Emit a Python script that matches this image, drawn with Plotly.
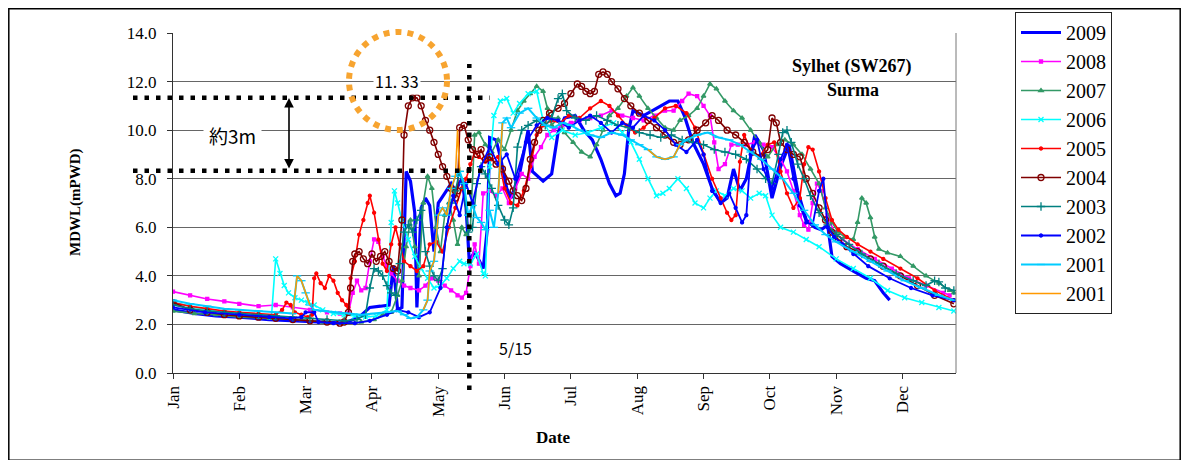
import plotly.graph_objects as go

# ---------------- data (day of year, MDWL m PWD) ----------------
month_labels = ["Jan", "Feb", "Mar", "Apr", "May", "Jun", "Jul", "Aug", "Sep", "Oct", "Nov", "Dec"]
month_tick_days = [0, 31, 62, 93, 124, 155, 186, 217, 248, 279, 310, 341]
y_tick_values = [0, 2, 4, 6, 8, 10, 12, 14]

s2009 = [(0,2.6),(10,2.45),(20,2.35),(31,2.3),(45,2.2),(60,2.15),(70,2.1),(80,2.05),(87,2.3),(92,2.7),(97,2.75),
         (101,2.8),(103,4.4),(105,2.6),(107,2.7),(109,8.3),(111,7.9),(113,6.6),(114,2.7),(116,6.8),(118,7.2),(120,6.9),
         (122,5.0),(124,7.0),(127,7.4),(130,7.8),(132,7.5),(135,8.0),(137,6.8),(138.5,4.6),(141,5.0),(145,4.3),(147,6.0),
         (148,9.7),(151,9.6),(153,8.9),(156,7.6),(158,7.2),(162,8.2),(166,10.0),(168,8.3),(173,7.9),(177,8.2),(180,9.9),
         (183,10.5),(188,10.6),(192,10.0),(196,9.6),(200,8.8),(204,7.8),(207,7.3),(209,7.4),(211,8.2),(213,10.0),(215,10.8),
         (220,10.6),(226,10.9),(232,11.2),(236,11.2),(239,10.6),(243,9.5),(248,8.6),(252,7.6),(256,7.0),(259,7.2),(262,8.4),
         (265,7.5),(268,8.0),(272,9.8),(276,9.2),(280,7.2),(284,8.5),(288,9.4),(292,7.5),(296,6.3),(300,6.0),(303,5.9),
         (306,6.1),(308,4.8),(312,4.5),(318,4.2),(324,3.9),(328,3.8),(332,3.3),(335,3.0)]

s2008 = [(0,3.35),(8,3.2),(16,3.05),(24,2.95),(31,2.85),(40,2.75),(48,2.8),(56,2.7),(64,2.6),(72,2.5),(78,2.45),(82,2.45),
         (84,3.3),(86,3.8),(88,3.4),(90,3.5),(92,4.6),(94,5.5),(96,5.4),(98,4.8),(100,4.4),(102,4.1),(105,3.8),(108,3.6),
         (111,3.5),(115,3.4),(118,3.6),(121,3.9),(124,3.8),(127,3.6),(130,3.4),(133,3.2),(135,3.1),(137,3.3),(139,4.4),
         (141,5.3),(143,4.5),(145,7.4),(148,7.5),(151,7.3),(154,7.6),(157,7.0),(160,7.6),(163,8.2),(166,8.0),(169,8.9),
         (172,9.3),(175,9.8),(178,10.0),(182,10.2),(186,10.3),(190,10.4),(195,10.5),(200,10.6),(205,10.8),(210,10.6),
         (215,10.5),(220,10.4),(225,10.6),(230,10.8),(234,10.8),(238,11.2),(241,11.5),(245,11.4),(248,11.0),(251,10.6),
         (253,9.5),(255,8.4),(258,8.6),(261,9.4),(264,9.4),(268,9.4),(272,9.5),(276,9.4),(280,9.3),(284,8.8),(287,8.3),
         (290,7.5),(293,6.5),(295,6.1),(297,5.9),(299,7.0),(301,7.8),(303,7.5),(306,6.5),(309,5.8),(313,5.5),(320,5.1),
         (328,4.7),(336,4.3),(344,3.9),(352,3.6),(360,3.3),(363,3.2)]

s2007 = [(0,2.55),(10,2.45),(20,2.4),(31,2.3),(45,2.25),(60,2.2),(70,2.1),(80,2.05),(88,2.1),(94,2.2),(98,2.4),(102,2.5),
         (105,3.2),(107,3.8),(109,5.2),(111,6.3),(113,5.2),(115,4.0),(117,7.0),(119,8.1),(121,7.6),(123,6.0),(125,5.0),
         (127,6.5),(129,7.0),(131,6.3),(133,5.3),(135,6.0),(137,5.7),(139,6.0),(141,9.8),(143,9.9),(146,9.4),(149,9.1),
         (152,9.6),(155,9.2),(158,10.0),(161,10.8),(164,11.2),(167,11.5),(170,11.8),(173,11.6),(175,10.9),(177,10.2),
         (180,10.5),(183,9.9),(187,9.5),(191,9.1),(195,8.9),(198,9.4),(201,10.0),(204,10.6),(208,10.9),(212,11.4),
         (215,11.75),(218,11.4),(222,10.9),(226,10.5),(230,10.1),(234,10.0),(237,10.4),(241,10.6),(245,10.9),(248,11.4),
         (251,11.9),(254,11.7),(258,11.2),(262,10.8),(266,10.5),(270,10.0),(274,9.5),(278,8.9),(282,9.4),(286,9.6),
         (290,9.4),(294,9.0),(298,8.4),(302,7.8),(305,6.8),(308,6.2),(311,5.8),(314,5.6),(318,5.5),(320,6.2),(322,7.2),
         (324,7.0),(326,6.4),(328,5.6),(330,5.1),(334,4.95),(340,4.8),(346,4.4),(352,4.0),(358,3.7),(363,3.4),(365,3.3)]

s2006 = [(0,2.9),(8,2.75),(16,2.6),(24,2.5),(31,2.4),(40,2.35),(46,2.3),(48,4.7),(50,4.1),(52,3.6),(54,3.3),(57,3.1),
         (60,3.0),(63,2.9),(66,2.8),(70,2.6),(75,2.45),(80,2.4),(85,2.35),(90,2.3),(95,2.35),(100,2.6),(102,6.2),
         (103.5,7.5),(105,7.0),(107,6.3),(110,5.5),(113,4.8),(116,4.3),(119,3.9),(122,3.5),(125,3.6),(128,3.9),(131,4.3),
         (134,4.6),(136,4.5),(139,4.5),(142,4.9),(145,4.1),(146,4.0),(148,8.5),(150,10.6),(153,11.2),(156,11.3),(159,10.7),
         (162,11.1),(166,11.5),(170,11.6),(173,10.4),(177,9.7),(182,10.0),(188,9.8),(194,9.9),(200,10.1),(206,10.3),
         (210,9.9),(214,9.5),(218,8.8),(222,8.0),(226,7.3),(229,7.4),(232,7.6),(236,8.0),(240,7.6),(244,7.0),(248,6.8),
         (251,7.2),(254,7.5),(258,7.3),(262,7.6),(266,7.5),(270,7.2),(274,7.4),(277,7.3),(280,6.5),(284,6.0),(290,5.8),
         (296,5.5),(302,5.2),(310,4.7),(318,4.3),(326,3.9),(334,3.4),(342,3.1),(350,2.9),(358,2.7),(365,2.55)]

s2005 = [(0,2.9),(8,2.75),(16,2.65),(24,2.55),(31,2.5),(40,2.45),(48,2.4),(51,2.6),(53,2.9),(55,2.8),(57,2.5),(60,2.4),
         (63,2.3),(65,2.4),(66,3.9),(67,4.1),(69,3.7),(71,3.5),(73,4.0),(75,3.8),(77,3.3),(79,3.0),(81,2.8),(82,2.7),
         (83,3.9),(85,4.6),(87,5.7),(89,6.3),(91,7.0),(92,7.3),(94,6.6),(96,5.5),(98,4.5),(100,4.2),(102,5.3),(104,6.0),
         (106,5.3),(108,4.6),(111,4.4),(114,4.2),(117,4.4),(120,5.3),(123,5.4),(126,5.0),(129,6.0),(132,6.8),(135,7.6),
         (137,8.0),(139,8.6),(141,9.1),(143,8.9),(146,8.7),(149,8.8),(152,8.9),(155,7.6),(158,7.0),(161,6.9),(164,7.5),
         (167,8.5),(170,9.8),(173,10.2),(177,10.4),(181,10.3),(185,10.6),(190,10.5),(195,10.9),(200,11.2),(204,11.0),
         (208,10.6),(212,10.2),(216,9.9),(220,10.1),(225,10.5),(230,10.9),(235,11.0),(240,10.7),(244,10.1),(248,9.0),
         (252,8.0),(256,7.2),(259,6.6),(261,6.3),(263,6.5),(265,8.7),(267,9.8),(270,9.2),(274,8.9),(278,9.4),(281,9.5),
         (284,8.3),(287,7.4),(290,6.8),(293,7.2),(295,8.6),(297,9.3),(299,9.2),(302,8.3),(305,7.2),(308,6.3),(311,5.9),
         (315,5.6),(320,5.3),(326,5.0),(332,4.7),(340,4.3),(348,3.9),(356,3.4),(365,3.0)]

s2004 = [(0,2.9),(8,2.6),(16,2.5),(24,2.4),(31,2.35),(40,2.3),(48,2.25),(56,2.2),(64,2.15),(72,2.1),(78,2.05),(80,2.1),
         (82,2.5),(83,3.5),(84,4.6),(85,4.9),(87,5.0),(89,4.7),(91,4.5),(93,4.9),(95,4.6),(97,4.8),(99,5.0),(101,4.6),
         (103,4.3),(105,4.2),(107,6.3),(108,9.8),(110,11.0),(112,11.33),(114,11.33),(116,11.0),(118,10.4),(120,10.0),
         (122,9.5),(124,9.0),(126,8.5),(128,8.1),(130,7.6),(132,7.2),(133,7.5),(134,10.1),(136,10.2),(138,9.6),(140,9.2),
         (142,9.0),(144,9.2),(146,8.8),(148,8.9),(151,8.6),(154,8.4),(157,7.9),(159,7.5),(161,7.3),(163,7.1),(165,7.6),
         (167,8.8),(169,9.5),(171,10.0),(173,10.4),(176,10.7),(180,10.9),(183,11.1),(186,11.5),(189,11.9),(191,11.8),
         (193,11.6),(195,11.5),(197,11.6),(199,12.3),(201,12.4),(203,12.3),(205,12.0),(208,11.7),(211,11.3),(214,11.0),
         (218,10.7),(222,10.4),(226,10.1),(230,9.8),(234,9.5),(237,9.4),(241,9.6),(245,10.0),(249,10.3),(252,10.6),
         (255,10.4),(259,10.0),(263,9.8),(267,9.5),(271,9.1),(275,8.9),(278,9.2),(280,10.5),(282,10.3),(284,9.5),
         (287,9.2),(290,9.0),(293,8.9),(296,8.0),(299,7.4),(302,6.8),(305,6.3),(308,5.8),(311,5.5),(315,5.2),(320,5.0),
         (326,4.7),(332,4.4),(340,4.0),(348,3.6),(356,3.2),(365,2.85)]

s2003 = [(0,2.8),(8,2.65),(16,2.55),(24,2.5),(31,2.45),(40,2.4),(48,2.35),(56,2.3),(64,2.25),(72,2.2),(80,2.15),(86,2.2),
         (90,2.4),(92,3.5),(94,4.3),(96,4.2),(98,4.0),(100,3.6),(102,3.3),(104,3.2),(106,4.5),(108,5.8),(110,6.1),
         (112,5.8),(114,6.3),(116,6.7),(118,5.0),(120,4.4),(122,4.0),(124,3.8),(126,4.3),(128,6.0),(130,7.0),(132,7.5),
         (134,8.3),(136,7.6),(138,5.8),(140,6.0),(142,7.8),(144,8.5),(146,8.2),(149,7.6),(152,6.9),(155,6.3),(157,6.1),
         (159,6.8),(161,9.3),(163,10.0),(166,10.2),(170,10.4),(174,10.2),(177,10.5),(180,11.3),(182,11.5),(184,10.8),
         (188,10.5),(193,10.4),(198,10.6),(203,10.4),(208,10.2),(213,10.1),(218,9.9),(223,9.8),(228,9.7),(233,9.8),
         (238,9.6),(243,9.5),(248,9.4),(253,9.2),(258,9.1),(263,9.0),(268,8.8),(273,8.4),(277,8.0),(280,7.8),(283,9.0),
         (285,9.9),(287,10.0),(289,9.5),(292,8.6),(295,8.0),(298,7.3),(302,6.6),(306,6.1),(310,5.7),(316,5.3),(322,4.9),
         (330,4.5),(338,4.1),(346,3.8),(352,3.6),(356,3.8),(358,3.75),(361,3.5),(365,3.4)]

s2002 = [(0,2.7),(15,2.5),(31,2.4),(45,2.3),(55,2.25),(60,2.3),(62,2.5),(66,2.5),(68,2.1),(75,2.05),(85,2.05),(92,2.15),
         (100,2.4),(105,2.6),(110,2.5),(115,2.3),(120,2.5),(125,3.5),(128,6.0),(131,7.3),(134,6.5),(137,7.8),(140,7.0),
         (144,8.5),(148,9.3),(152,8.6),(156,9.0),(160,8.0),(165,9.5),(170,10.2),(175,10.5),(180,10.4),(185,10.1),
         (190,10.4),(195,10.6),(200,10.3),(205,9.9),(210,10.3),(215,10.1),(220,10.6),(225,10.4),(230,10.0),(235,9.4),
         (240,9.1),(245,9.6),(248,9.0),(252,7.5),(256,7.0),(260,7.4),(263,6.8),(266,6.2),(268,6.5),(270,9.0),(273,9.6),
         (276,8.4),(280,7.6),(284,8.8),(287,9.4),(290,8.0),(293,6.9),(296,6.2),(299,6.1),(302,7.5),(304,8.0),(306,6.0),
         (309,5.6),(313,5.3),(318,4.9),(325,4.4),(335,3.9),(345,3.5),(355,3.2),(365,3.0)]

s2001 = [(0,3.0),(8,2.85),(16,2.75),(24,2.65),(31,2.6),(40,2.55),(48,2.5),(56,2.45),(58,4.0),(60,3.8),(62,3.3),(64,2.8),
         (66,2.6),(70,2.55),(76,2.5),(82,2.45),(88,2.4),(94,2.45),(100,2.5),(105,2.55),(108,2.4),(111,2.25),(114,2.3),
         (117,2.6),(119,3.0),(120,4.2),(122,4.6),(124,6.5),(126,6.8),(128,6.5),(130,7.6),(132,8.1),(134,8.3),(136,7.8),
         (138,6.5),(140,6.9),(142,6.4),(144,6.2),(146,5.9),(148,6.7),(150,6.0),(152,7.4),(154,10.3),(156,10.5),(158,10.1),
         (162,10.7),(166,10.9),(170,10.5),(174,10.2),(178,10.1),(182,10.3),(186,10.2),(190,10.0),(195,9.8),(200,9.7),
         (205,9.9),(210,9.8),(214,9.6),(218,9.4),(222,9.2),(226,8.9),(230,8.8),(234,8.9),(237,9.4),(240,9.6),(245,9.8),
         (250,9.9),(255,9.7),(260,9.6),(265,9.4),(270,9.1),(275,8.8),(280,8.4),(285,8.0),(290,7.4),(295,6.7),(300,6.1),
         (305,5.7),(310,5.4),(318,5.0),(326,4.6),(334,4.2),(342,3.8),(350,3.5),(358,3.2),(365,3.0)]

s2001b = [(56,2.45),(58,4.0),(60,3.8),(62,3.3),(64,2.8),(None,None),
          (117,2.6),(119,3.0),(120,4.2),(122,4.6),(124,6.5),(126,6.8),(128,6.5),(130,7.6),(132,8.1),(133,10.0),(134,8.3),
          (None,None),(152,7.4),(154,10.3),(None,None),
          (222,9.2),(226,8.9),(230,8.8),(234,8.9),(237,9.4)]

# ---------------- styling ----------------
series = [
    ("2009", s2009, "#0000FF", 3.2, None, 0),
    ("2008", s2008, "#FF00FF", 1.6, "square", 3),
    ("2007", s2007, "#339966", 1.6, "triangle-up", 4),
    ("2006", s2006, "#00FFFF", 1.6, "x-thin-open", 5),
    ("2005", s2005, "#FF0000", 1.6, "circle", 3),
    ("2004", s2004, "#800000", 1.6, "circle-open", 6),
    ("2003", s2003, "#008080", 1.6, "cross-thin-open", 6),
    ("2002", s2002, "#0000FF", 1.8, "circle", 3),
    ("2001", s2001, "#00CCFF", 2.0, "line-ew-open", 6),
    ("2001", s2001b, "#FF9900", 1.5, None, 0),
]

SERIF = "Liberation Serif, Times New Roman, serif"
CJK = "Noto Sans CJK JP, sans-serif"

# page body has an 8px margin: figure is drawn 8px in from the window edge
OFF = 8
W, H = 1189 - 2 * OFF, 468 - 2 * OFF
PL, PT, PR, PB = 173, 33, 956, 373          # plot area in window pixels
L, T = PL - OFF, PT - OFF
R, B = W - (PR - OFF), H - (PB - OFF)
PW, PH = W - L - R, H - T - B


def px_x(x):
    return (x - OFF - L) / PW


def px_y(y):
    return (H - B - (y - OFF)) / PH


fig = go.Figure()
for name, pts, color, lw, sym, msize in series:
    xs = [p[0] for p in pts]
    ys = [p[1] for p in pts]
    if sym is None:
        fig.add_trace(go.Scatter(x=xs, y=ys, name=name, mode="lines",
                                 line=dict(color=color, width=lw), connectgaps=False))
    else:
        fig.add_trace(go.Scatter(x=xs, y=ys, name=name, mode="lines+markers",
                                 line=dict(color=color, width=lw),
                                 marker=dict(symbol=sym, size=msize, color=color,
                                             line=dict(color=color, width=1.3)),
                                 connectgaps=False))

shapes = []
# outer chart frame
shapes.append(dict(type="rect", xref="paper", yref="paper",
                   x0=px_x(8.8), x1=px_x(1180.2), y0=px_y(460.2), y1=px_y(8.8),
                   line=dict(color="black", width=1.5), layer="below"))
# dotted horizontal guide lines (11.33 and 8.33)
for lvl in (11.33, 8.33):
    shapes.append(dict(type="line", xref="paper", yref="y", x0=px_x(133), x1=px_x(490), y0=lvl, y1=lvl,
                       line=dict(color="black", width=4.5, dash="4.5px,7px")))
# dotted vertical line at 5/15
shapes.append(dict(type="line", xref="x", yref="paper", x0=138.5, x1=138.5, y0=px_y(390), y1=px_y(64),
                   line=dict(color="black", width=4.5, dash="4.5px,7px")))
# orange dotted circle
shapes.append(dict(type="circle", xref="paper", yref="paper",
                   x0=px_x(349), x1=px_x(447), y0=px_y(130), y1=px_y(32),
                   line=dict(color="#F7A430", width=6, dash="6px,6px")))
# right border of plot area
shapes.append(dict(type="line", xref="paper", yref="paper", x0=1, x1=1, y0=0, y1=1,
                   line=dict(color="#777", width=1)))

ctr = dict(xanchor="center", yanchor="middle", showarrow=False, xref="paper", yref="paper")
annotations = [
    dict(text="<b>MDWL(mPWD)</b>", x=px_x(75), y=px_y(203), textangle=-90,
         font=dict(family=SERIF, size=15, color="black"), **ctr),
    dict(text="<b>Date</b>", x=px_x(553), y=px_y(437),
         font=dict(family=SERIF, size=17, color="black"), **ctr),
    dict(text="<b>Sylhet (SW267)</b>", x=px_x(852), y=px_y(67),
         font=dict(family=SERIF, size=18, color="black"), **ctr),
    dict(text="<b>Surma</b>", x=px_x(853), y=px_y(90),
         font=dict(family=SERIF, size=18, color="black"), **ctr),
    dict(text="約3m", x=px_x(232), y=px_y(135),
         font=dict(family=CJK, size=19, color="black"), bgcolor="white", borderpad=5, **ctr),
    dict(text="11. 33", x=px_x(397), y=px_y(81),
         font=dict(family=CJK, size=16, color="black"), bgcolor="white", borderpad=1, **ctr),
    dict(text="5/15", x=px_x(515), y=px_y(348),
         font=dict(family=CJK, size=16, color="black"), **ctr),
    dict(text="", xref="paper", yref="paper", x=px_x(289), y=px_y(98), ax=0, ay=72,
         showarrow=True, arrowside="end+start", arrowhead=2, startarrowhead=2, arrowsize=1.2, startarrowsize=1.2,
         arrowwidth=1.6, arrowcolor="black", standoff=0, startstandoff=0),
]

fig.update_layout(
    width=W, height=H,
    margin=dict(l=L, r=R, t=T, b=B, autoexpand=False),
    paper_bgcolor="white", plot_bgcolor="white",
    shapes=shapes, annotations=annotations,
    showlegend=True,
    legend=dict(x=px_x(1015), y=px_y(12), xanchor="left", yanchor="top",
                bordercolor="#222", borderwidth=1, bgcolor="white",
                font=dict(family=SERIF, size=20, color="black"),
                tracegroupgap=0, itemwidth=40, maxheight=420),
    xaxis=dict(range=[0, 366], tickmode="array", tickvals=month_tick_days, ticktext=month_labels,
               tickangle=-90, ticks="outside", ticklen=5, tickcolor="#333",
               showline=True, linecolor="#333", linewidth=1.2, mirror=False,
               showgrid=False, zeroline=False, automargin=False,
               tickfont=dict(family=SERIF, size=17, color="black")),
    yaxis=dict(range=[0, 14], tickmode="array", tickvals=y_tick_values,
               ticktext=["%.1f" % v for v in y_tick_values],
               ticks="outside", ticklen=5, tickcolor="#333", ticklabelstandoff=7,
               showline=True, linecolor="#333", linewidth=1.2,
               showgrid=True, gridcolor="#666", gridwidth=1, zeroline=False, automargin=False,
               tickfont=dict(family=SERIF, size=17, color="black")),
)

fig.write_html("out.html")
